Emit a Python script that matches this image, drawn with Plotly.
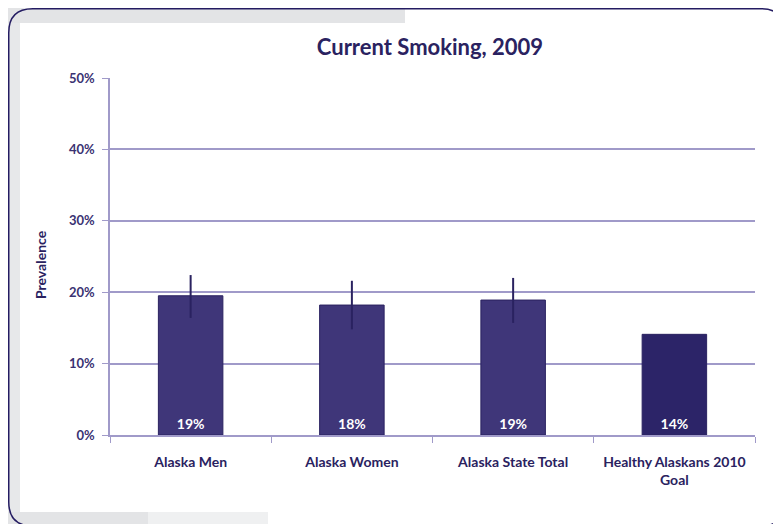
import plotly.graph_objects as go

categories = ["Alaska Men", "Alaska Women", "Alaska State Total", "Healthy Alaskans 2010<br>Goal"]
values = [19.5, 18.2, 18.9, 14.1]
err_plus = [2.9, 3.4, 3.1, 0]
err_minus = [3.1, 3.4, 3.2, 0]
labels = ["19%", "18%", "19%", "14%"]
bar_colors = ["#3f3679", "#3f3679", "#3f3679", "#2c2468"]
y_ticks = [0, 10, 20, 30, 40, 50]
y_ticktext = ["0%", "10%", "20%", "30%", "40%", "50%"]

# figure geometry (pixels); the page adds an 8px body margin
FW, FH = 773, 516
L, T, R, B = 102, 70, 26, 89
PW, PH = FW - L - R, FH - T - B


def px(x):
    return (x - L) / PW


def py(y):
    return (T + PH - y) / PH


fig = go.Figure()
fig.add_trace(go.Bar(
    x=categories, y=values, width=0.4,
    marker=dict(color=bar_colors, line=dict(color="#2a2260", width=1)),
    text=labels, textposition="inside", insidetextanchor="start",
    textfont=dict(color="white", size=14, family="Lato", weight="bold"),
    error_y=dict(type="data", symmetric=False, array=err_plus, arrayminus=err_minus,
                 color="#2a2260", thickness=2, width=0),
    hoverinfo="skip",
))

grey = "#e3e4e6"
fig.add_shape(type="rect", xref="paper", yref="paper", x0=px(0), x1=px(397), y0=py(15), y1=py(0),
              fillcolor=grey, line_width=0, layer="below")
fig.add_shape(type="rect", xref="paper", yref="paper", x0=px(0), x1=px(12), y0=py(504), y1=py(15),
              fillcolor="#e7e8ea", line_width=0, layer="below")
fig.add_shape(type="rect", xref="paper", yref="paper", x0=px(0), x1=px(140), y0=py(516), y1=py(504),
              fillcolor=grey, line_width=0, layer="below")
fig.add_shape(type="rect", xref="paper", yref="paper", x0=px(140), x1=px(260), y0=py(516), y1=py(504),
              fillcolor="#eff0f1", line_width=0, layer="below")

# rounded frame
x0, x1, y0, y1, r = 0.75, 777, 0.75, 518, 24
rx, ry = r / PW, r / PH
X0, X1, Y0, Y1 = px(x0), px(x1), py(y0), py(y1)
path = (f"M {X0},{Y0 - ry} Q {X0},{Y0} {X0 + rx},{Y0} L {X1 - rx},{Y0} Q {X1},{Y0} {X1},{Y0 - ry} "
        f"L {X1},{Y1 + ry} Q {X1},{Y1} {X1 - rx},{Y1} L {X0 + rx},{Y1} Q {X0},{Y1} {X0},{Y1 + ry} Z")
fig.add_shape(type="path", xref="paper", yref="paper", path=path,
              line=dict(color="#241c62", width=1.5), layer="above")

fig.add_annotation(text="<b>Prevalence</b>", xref="paper", yref="paper", x=px(32), y=py(257),
                   textangle=-90, showarrow=False, xanchor="center", yanchor="middle",
                   font=dict(family="Lato", size=14, color="#2a2260"))

fig.update_layout(
    width=FW, height=FH,
    margin=dict(l=L, r=R, t=T, b=B, autoexpand=False),
    paper_bgcolor="white", plot_bgcolor="white",
    showlegend=False,
    title=dict(text="Current Smoking, 2009", xref="container", x=422 / FW, xanchor="center",
               yref="container", y=1 - 39 / FH, yanchor="middle",
               font=dict(family="Lato", size=22, color="#2a2260", weight="bold")),
    font=dict(family="Lato", color="#2f2868"),
    yaxis=dict(range=[0, 50], tickvals=y_ticks, ticktext=y_ticktext,
               showgrid=True, gridcolor="#a09ac9", gridwidth=1.5,
               showline=True, linecolor="#a09ac9", linewidth=1.5,
               ticks="outside", ticklen=6, tickcolor="#a09ac9", ticklabelstandoff=5,
               tickfont=dict(size=13, color="#3a3272", weight="bold"),
               zeroline=False),
    xaxis=dict(showline=True, linecolor="#a09ac9", linewidth=1.5,
               ticks="outside", ticklen=6, tickcolor="#a09ac9", tickson="boundaries",
               ticklabelstandoff=13,
               tickfont=dict(size=14, color="#2a2260", weight="bold")),
)

fig.write_html("out.html")
